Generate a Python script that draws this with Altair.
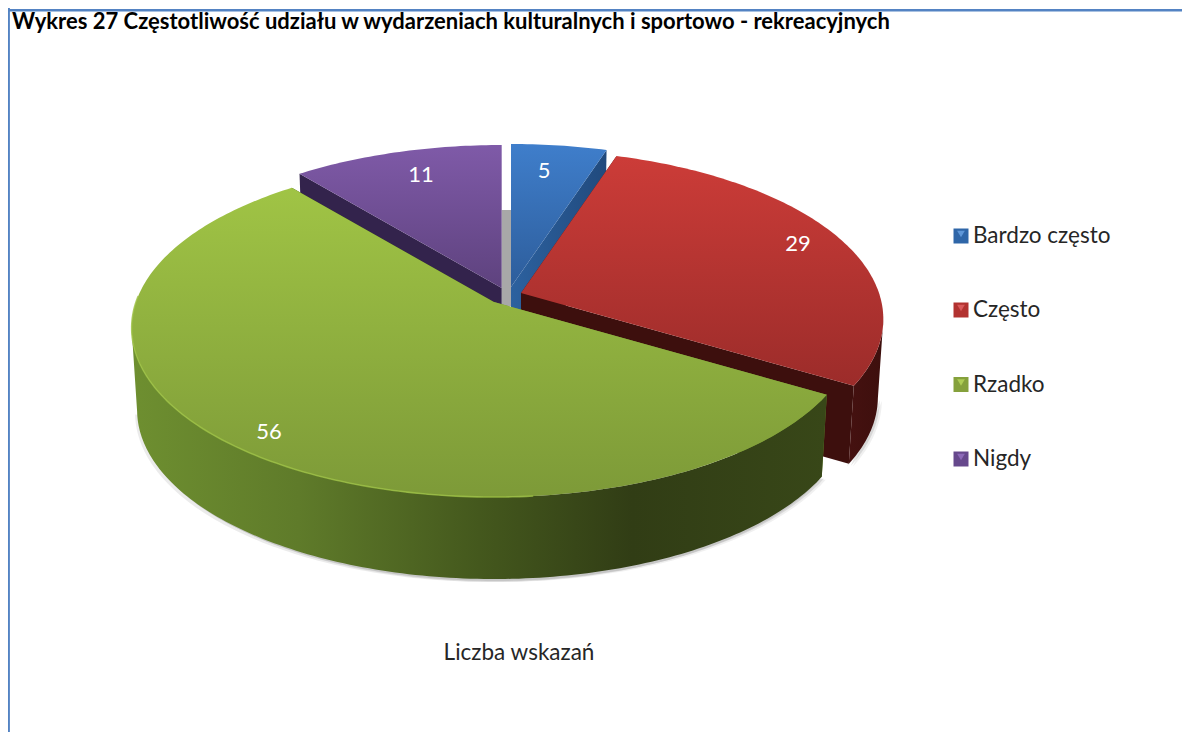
import math
import altair as alt
import pandas as pd

categories = ["Bardzo często", "Często", "Rzadko", "Nigdy"]
values = [5, 29, 56, 11]
title_text = "Wykres 27 Częstotliwość udziału w wydarzeniach kulturalnych i sportowo - rekreacyjnych"
axis_name = "Liczba wskazań"

# look of each slice: face gradient (top, bottom), wall gradient stops
face_cols = [("#3f7ecb", "#2d5d9b"), ("#cc3c38", "#9c2c2a"), ("#a0c445", "#7d9a38"), ("#7f5aa8", "#5e427e")]
wall_cols = [["#2c619f", "#214a7d"], ["#451110", "#3d0f0d"],
             ["#6e8f30", "#5f7b2a", "#44581d", "#313d15", "#384718"], ["#33234c", "#281a3a"]]
wall_stops = [[0, 1], [0, 1], [0, 0.24, 0.5, 0.72, 1], [0, 1]]
legend_cols = ["#2f66a8", "#b23230", "#85a13c", "#66488c"]
legend_tips = ["#5f97d8", "#d9595a", "#aecd55", "#8c69b8"]
# exploded pie: where each slice's tip sits, and the tilt of the view
apexes = [(511, 287), (521, 293), (494, 302), (501.7, 288)]
depths = [82, 78, 82, 82]
RX, RY, K, SHRINK = 358, 165, 0.154, 0.985

total = sum(values)
edges = [0]
for v in values:
    edges.append(edges[-1] + v / total * 2 * math.pi)


def rim(i, t):
    ax, ay = apexes[i]
    d = 1 + K * math.cos(t)
    return ax + RX * math.sin(t) / d, ay - RY * math.cos(t) / d


def low(i, p):
    ax, _ = apexes[i]
    return ax + (p[0] - ax) * SHRINK, p[1] + depths[i]


def angles(i):
    a, b = edges[i], edges[i + 1]
    n = max(4, int((b - a) * 60))
    return [a + (b - a) * k / n for k in range(n + 1)]


def arc(i):
    return [rim(i, t) for t in angles(i)]


def front_arc(i):
    # the part of the rim whose wall faces the viewer
    return [rim(i, t) for t in angles(i) if math.cos(t) <= -K]


sx = alt.Scale(domain=[8, 1182], nice=False, zero=False)
sy = alt.Scale(domain=[732, 8], nice=False, zero=False)
X = alt.X("x:Q", scale=sx, axis=None)
Y = alt.Y("y:Q", scale=sy, axis=None)


def grad(cols, horizontal=False, offsets=None):
    n = len(cols) - 1
    offs = offsets or [k / n for k in range(n + 1)]
    stops = [alt.GradientStop(offset=o, color=c) for o, c in zip(offs, cols)]
    if horizontal:
        return alt.Gradient(gradient="linear", stops=stops, x1=0, x2=1, y1=0, y2=0)
    return alt.Gradient(gradient="linear", stops=stops, x1=0, x2=0, y1=0, y2=1)


def poly(pts, fill, opacity=1.0):
    df = pd.DataFrame({"x": [p[0] for p in pts], "y": [p[1] for p in pts], "i": range(len(pts))})
    return alt.Chart(df).mark_line(filled=True, fill=fill, strokeWidth=0, opacity=opacity).encode(
        x=X, y=Y, order=alt.Order("i:Q"))


def text_layer(xs, ys, texts, size, color, align="center", weight="normal"):
    df = pd.DataFrame({"x": xs, "y": ys, "t": texts})
    return alt.Chart(df).mark_text(font="Lato", fontSize=size, color=color, align=align,
                                   baseline="middle", fontWeight=weight).encode(x=X, y=Y, text="t:N")


layers = []

# frame
fr = pd.DataFrame({"x": [8.6], "y": [8], "y2": [732]})
layers.append(alt.Chart(fr).mark_rule(color="#5383c3", strokeWidth=2.6).encode(x=X, y=Y, y2="y2:Q"))
fr = pd.DataFrame({"x": [8], "x2": [1182], "y": [10.2]})
layers.append(alt.Chart(fr).mark_rule(color="#5383c3", strokeWidth=2.6).encode(x=X, x2="x2:Q", y=Y))

# title, just under the frame so that none of it is cut
layers.append(text_layer([12], [22], [title_text], 22, "#000000", "left", "bold"))

# soft shadow under the pie
for dx, dy, op in [(4, 3, 0.06), (-2, 3, 0.08), (2, 2, 0.10)]:
    for i in (1, 2):
        layers.append(poly([(low(i, q)[0] + dx, low(i, q)[1] + dy) for q in front_arc(i)], "#000000", op))

# grey sliver in the gap between the first and the last slice
gx0, gx1 = apexes[3][0], apexes[0][0]
layers.append(alt.Chart(pd.DataFrame({"x": [gx0], "x2": [gx1], "y": [210], "y2": [306]}))
              .mark_rect(color="#a8a8a8").encode(x=X, x2="x2:Q", y=Y, y2="y2:Q"))

# slices, back to front
for i in (3, 0, 1, 2):
    pts = arc(i)
    apex = apexes[i]
    base = low(i, apex)
    wall = grad(wall_cols[i], True, wall_stops[i])
    dark = wall_cols[i][-1] if i != 0 else wall_cols[i][0]
    layers.append(poly([apex, pts[0], low(i, pts[0]), base], wall_cols[i][0]))
    layers.append(poly([apex, pts[-1], low(i, pts[-1]), base], wall if i == 0 else dark))
    front = front_arc(i)
    if front:
        layers.append(poly(front + [low(i, p) for p in reversed(front)], wall))
    layers.append(poly([apex] + pts, grad(face_cols[i])))

# pale rim along the front-left of the big slice
g = [rim(2, t) for t in angles(2) if math.sin(t) < 0.1 and math.cos(t) <= 0.05]
rimdf = pd.DataFrame({"x": [p[0] for p in g], "y": [p[1] for p in g], "i": range(len(g))})
layers.append(alt.Chart(rimdf).mark_line(color="#9cc043", strokeWidth=1.6, opacity=0.8).encode(
    x=X, y=Y, order=alt.Order("i:Q")))

# value labels
layers.append(text_layer([544, 798, 269, 421], [171, 244, 432, 175], [str(v) for v in values], 22, "#ffffff"))

# legend
ly = [236, 310, 384.5, 459]
leg = pd.DataFrame({"x": [961] * 4, "y": ly, "c": legend_cols, "tip": legend_tips})
layers.append(alt.Chart(leg).mark_square(size=225, opacity=1).encode(
    x=X, y=Y, color=alt.Color("c:N", scale=None)))
layers.append(alt.Chart(leg).mark_point(shape="triangle-down", size=60, filled=True, opacity=1).encode(
    x=X, y=alt.Y("y1:Q", scale=sy, axis=None), color=alt.Color("tip:N", scale=None)
).transform_calculate(y1="datum.y - 2"))
layers.append(text_layer([973] * 4, ly, categories, 22.5, "#262626", "left"))

# axis name
layers.append(text_layer([519], [653], [axis_name], 22.5, "#262626"))

chart = alt.layer(*layers).properties(
    width=1174, height=724, padding=0, autosize=alt.AutoSizeParams(type="none"), background="#ffffff"
).configure_view(stroke=None)

chart.save("out.html", embed_options={"renderer": "svg", "actions": False})
